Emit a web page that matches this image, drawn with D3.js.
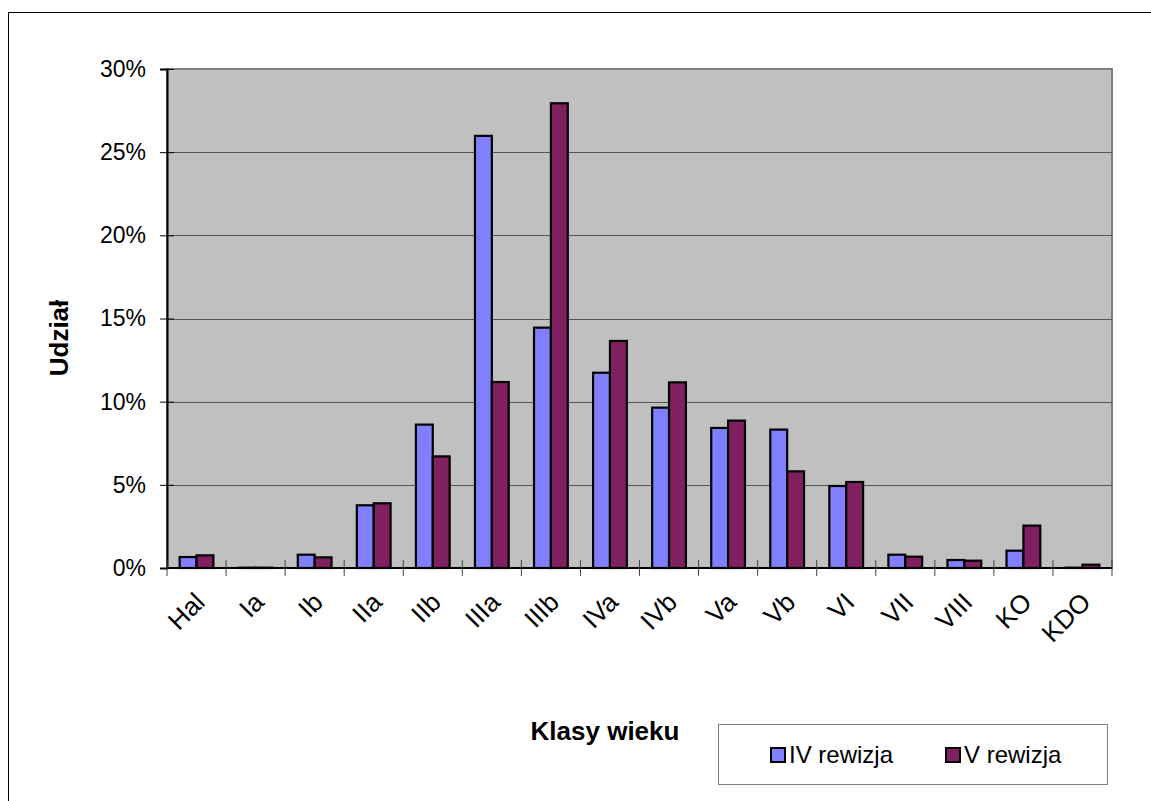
<!DOCTYPE html>
<meta charset="utf-8">
<style>
body { margin: 0; background: #fff; }
text { font-family: "Liberation Sans", Arial, sans-serif; }
</style>
<body>
<svg width="1151" height="801"></svg>
<script src="https://d3js.org/d3.v7.min.js"></script>
<script>

// age classes and shares (%) for the two revisions
var categories = ["Hal","Ia","Ib","IIa","IIb","IIIa","IIIb","IVa","IVb","Va","Vb","VI","VII","VIII","KO","KDO"];
var seriesNames = ["IV rewizja", "V rewizja"];
var rewizjaIV = [0.66, 0.02, 0.8, 3.77, 8.62, 25.98, 14.45, 11.74, 9.64, 8.42, 8.32, 4.93, 0.8, 0.48, 1.04, 0.02];
var rewizjaV  = [0.76, 0.02, 0.64, 3.89, 6.71, 11.18, 27.94, 13.65, 11.16, 8.86, 5.81, 5.17, 0.68, 0.44, 2.55, 0.2];
var yTicks = [0, 5, 10, 15, 20, 25, 30];
var colors = ["#8080ff", "#802060"];

var svg = d3.select("svg");
var plotLeft = 167, plotRight = 1112, plotTop = 69, plotBottom = 568;

// outer chart frame
svg.append("rect")
    .attr("x", 8.5).attr("y", 12.5)
    .attr("width", 1160).attr("height", 800)
    .attr("fill", "none").attr("stroke", "#000").attr("stroke-width", 1);

var x = d3.scaleBand().domain(categories).range([plotLeft, plotRight]).padding(0);
var x1 = d3.scaleBand().domain(seriesNames).range([0, x.bandwidth()])
    .paddingInner(0).paddingOuter(0.75);
var y = d3.scaleLinear().domain([0, 30]).range([plotBottom, plotTop]);

// plot area
svg.append("rect")
    .attr("x", plotLeft).attr("y", plotTop)
    .attr("width", plotRight - plotLeft).attr("height", plotBottom - plotTop)
    .attr("fill", "#c0c0c0").attr("stroke", "#808080").attr("stroke-width", 2);

// gridlines
svg.append("g")
  .selectAll("line")
  .data(yTicks.filter(function(d){ return d > 0 && d < 30; }))
  .enter().append("line")
    .attr("x1", plotLeft).attr("x2", plotRight)
    .attr("y1", function(d){ return Math.round(y(d)) + 0.5; })
    .attr("y2", function(d){ return Math.round(y(d)) + 0.5; })
    .attr("stroke", "#555").attr("stroke-width", 1.2);

// bars
var data = categories.map(function(c, i) {
  return {cat: c, vals: [rewizjaIV[i], rewizjaV[i]]};
});

var groups = svg.append("g")
  .selectAll("g")
  .data(data)
  .enter().append("g")
    .attr("transform", function(d){ return "translate(" + x(d.cat) + ",0)"; });

groups.selectAll("rect")
  .data(function(d){ return d.vals.map(function(v, j){ return {name: seriesNames[j], v: v, j: j}; }); })
  .enter().append("rect")
    .attr("x", function(d){ return x1(d.name); })
    .attr("width", x1.bandwidth())
    .attr("y", function(d){ return y(d.v); })
    .attr("height", function(d){ return y(0) - y(d.v); })
    .attr("fill", function(d){ return colors[d.j]; })
    .attr("stroke", "#000").attr("stroke-width", 2.2);

// y axis
var yAxis = d3.axisLeft(y)
    .tickValues(yTicks)
    .tickFormat(function(d){ return d + "%"; })
    .tickSize(7).tickPadding(14);
var gy = svg.append("g").attr("transform", "translate(" + plotLeft + ",0)").call(yAxis);
gy.select(".domain").attr("stroke", "#000").attr("stroke-width", 2);
gy.selectAll(".tick line").attr("stroke", "#000").attr("x2", -7).attr("x1", 7);
gy.selectAll("text").attr("font-size", 23).attr("fill", "#000")
    .style("font-family", "'Liberation Sans', Arial, sans-serif");

// x axis line and tick marks at category boundaries
svg.append("line")
    .attr("x1", plotLeft).attr("x2", plotRight)
    .attr("y1", plotBottom).attr("y2", plotBottom)
    .attr("stroke", "#000").attr("stroke-width", 2);

var bounds = categories.map(function(c){ return x(c); }).concat([plotRight]);
svg.append("g")
  .selectAll("line")
  .data(bounds)
  .enter().append("line")
    .attr("x1", function(d){ return d; }).attr("x2", function(d){ return d; })
    .attr("y1", plotBottom - 8).attr("y2", plotBottom + 8)
    .attr("stroke", "#444").attr("stroke-width", 1);

// rotated category labels
svg.append("g")
  .selectAll("text")
  .data(categories)
  .enter().append("text")
    .attr("transform", function(d){
      return "translate(" + (x(d) + x.bandwidth() / 2 - 4) + "," + (plotBottom + 22) + ") rotate(-45)";
    })
    .attr("text-anchor", "end")
    .attr("dy", "0.75em")
    .attr("font-size", 26)
    .attr("fill", "#000")
    .text(function(d){ return d; });

// axis titles
svg.append("text")
    .attr("transform", "translate(68,338) rotate(-90)")
    .attr("text-anchor", "middle")
    .attr("font-size", 26).attr("font-weight", "bold")
    .text("Udział");

svg.append("text")
    .attr("x", 605).attr("y", 740)
    .attr("text-anchor", "middle")
    .attr("font-size", 26).attr("font-weight", "bold")
    .text("Klasy wieku");

// legend
var legend = svg.append("g");
legend.append("rect")
    .attr("x", 718.5).attr("y", 724.5)
    .attr("width", 389).attr("height", 60)
    .attr("fill", "#fff").attr("stroke", "#808080").attr("stroke-width", 1);

var legendX = [771, 946];
var items = legend.selectAll("g.item")
  .data(seriesNames)
  .enter().append("g")
    .attr("class", "item")
    .attr("transform", function(d, i){ return "translate(" + legendX[i] + ",0)"; });

items.append("rect")
    .attr("x", 0).attr("y", 748)
    .attr("width", 14).attr("height", 14)
    .attr("fill", function(d, i){ return colors[i]; })
    .attr("stroke", "#000").attr("stroke-width", 2);

items.append("text")
    .attr("x", 18).attr("y", 763)
    .attr("font-size", 24)
    .text(function(d){ return d; });

</script>
</body>
